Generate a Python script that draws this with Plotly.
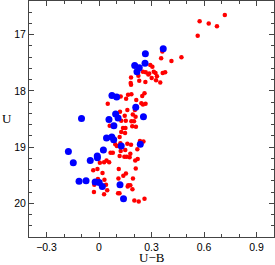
import plotly.graph_objects as go

# Blue sample (large markers)
blue_ub = [-0.100, 0.095, 0.057, 0.109, 0.085, 0.043, 0.073, 0.084, -0.175, -0.147,
           -0.050, -0.010, -0.009, 0.025, -0.114, -0.074, -0.022, 0.001, 0.019, 0.120,
           0.140, 0.127, 0.236, 0.367, 0.265, 0.263, 0.204, 0.230, 0.217, 0.074,
           0.101, 0.210, 0.254]
blue_u = [18.49, 18.41, 18.51, 18.48, 18.62, 18.84, 18.82, 18.87, 19.08, 19.28,
          19.24, 19.16, 19.19, 19.05, 19.61, 19.60, 19.62, 19.63, 19.70, 19.67,
          19.92, 18.98, 18.95, 17.25, 17.34, 17.51, 17.55, 17.59, 17.66, 18.08,
          18.11, 18.29, 18.46]

# Red sample (small markers)
red_ub = [0.719, 0.575, 0.627, 0.674, 0.564, 0.362, 0.471, 0.355, 0.414, 0.293,
          0.305, 0.251, 0.267, 0.282, 0.287, 0.313, 0.323, 0.331, 0.364, 0.378,
          0.225, 0.183, 0.301, 0.230, 0.265, 0.326, 0.350, 0.181, 0.183,
          0.124, 0.166, 0.185, 0.155, 0.247, 0.260, 0.213, 0.050, 0.251, 0.242,
          0.266, 0.205, 0.162, 0.120, 0.193, 0.209, 0.147, 0.127, 0.153, 0.185,
          0.200, 0.190, 0.211, 0.061, 0.137, 0.151, 0.127, 0.149, 0.118,
          0.093, 0.102, 0.122, 0.162, 0.183, 0.234, 0.254, 0.124, 0.150, 0.219,
          0.179, 0.066, 0.079, 0.118, 0.145, 0.158, 0.175, 0.221, 0.207,
          0.005, 0.029, 0.043, 0.058, -0.033, -0.009, 0.113, 0.210, 0.020,
          0.154, 0.139, 0.111, 0.194, 0.031, -0.006, -0.027, 0.040, 0.167,
          0.179, 0.164, 0.047, 0.191, -0.029, 0.109, 0.117, 0.029, 0.260,
          0.202, 0.227]
red_u = [16.65, 16.76, 16.80, 16.85, 17.02, 17.30, 17.40, 17.42, 17.47, 17.54,
         17.57, 17.66, 17.67, 17.71, 17.69, 17.66, 17.68, 17.74, 17.68, 17.67,
         17.73, 17.76, 17.77, 17.82, 17.84, 17.81, 17.85, 17.86, 17.89,
         18.10, 18.07, 18.06, 18.14, 18.09, 18.04, 18.16, 18.23, 18.24, 18.22,
         18.23, 18.34, 18.34, 18.37, 18.42, 18.46, 18.44, 18.53, 18.53, 18.54,
         18.54, 18.63, 18.64, 18.62, 18.66, 18.66, 18.73, 18.75, 18.82,
         18.95, 18.98, 18.93, 18.94, 18.96, 18.89, 18.90, 19.07, 19.05, 19.04,
         19.12, 19.10, 19.10, 19.16, 19.17, 19.17, 19.18, 19.21, 19.24,
         19.28, 19.27, 19.24, 19.27, 19.41, 19.39, 19.39, 19.38, 19.46,
         19.47, 19.51, 19.56, 19.56, 19.58, 19.57, 19.67, 19.67, 19.68,
         19.68, 19.70, 19.77, 19.75, 19.80, 19.82, 19.82, 19.84, 19.92,
         19.95, 19.97]

x_tickvals = [-0.3, 0, 0.3, 0.6, 0.9]
x_ticktext = ["\u22120.3", "0", "0.3", "0.6", "0.9"]
y_tickvals = [17, 18, 19, 20]
y_ticktext = ["17", "18", "19", "20"]

fig = go.Figure()
fig.add_trace(go.Scatter(x=red_ub, y=red_u, mode="markers",
                         marker=dict(color="#ff0000", size=4.5, line=dict(width=0)),
                         showlegend=False, hoverinfo="skip"))
fig.add_trace(go.Scatter(x=blue_ub, y=blue_u, mode="markers",
                         marker=dict(color="#0000ff", size=7, line=dict(width=0)),
                         showlegend=False, hoverinfo="skip"))

axis_common = dict(showline=True, linecolor="#444", linewidth=1, mirror="allticks",
                   ticks="inside", ticklen=5, tickcolor="#444", tickwidth=1,
                   showgrid=False, zeroline=False, automargin=False,
                   tickfont=dict(family="Liberation Sans, Arial", size=10.5, color="black"))

fig.update_xaxes(range=[-0.4, 1.0], tickvals=x_tickvals, ticktext=x_ticktext,
                 minor=dict(dtick=0.1, tick0=0, ticks="inside", ticklen=3, tickcolor="#444"),
                 **axis_common)
fig.update_yaxes(range=[20.6, 16.4], tickvals=y_tickvals, ticktext=y_ticktext,
                 minor=dict(dtick=0.2, tick0=17, ticks="inside", ticklen=3, tickcolor="#444"),
                 **axis_common)

fig.add_annotation(text="U\u2212B", xref="paper", yref="paper", x=0.5, y=-0.088,
                   xanchor="center", yanchor="middle", showarrow=False,
                   font=dict(family="Liberation Serif, Times New Roman", size=13, color="black"))
fig.add_annotation(text="U", xref="paper", yref="paper", x=-0.09, y=0.504,
                   xanchor="center", yanchor="middle", showarrow=False,
                   font=dict(family="Liberation Serif, Times New Roman", size=13, color="black"))

fig.update_layout(width=275, height=265, margin=dict(l=29, r=1, t=1, b=28, autoexpand=False),
                  plot_bgcolor="white", paper_bgcolor="white")

fig.write_html("out.html", config={"displayModeBar": False, "staticPlot": True},
               post_script="document.body.style.margin='0';document.body.style.padding='0';")
